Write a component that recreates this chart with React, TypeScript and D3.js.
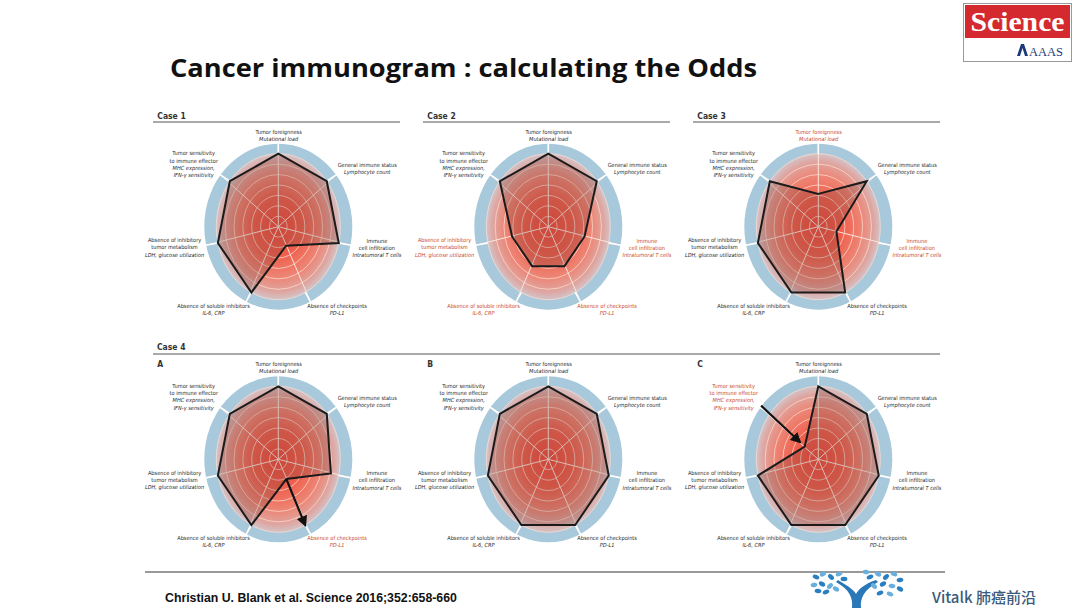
import * as d3 from 'd3';
import React, { useEffect, useRef } from 'react';

// axis texts, clockwise from the top
const axisTitles = [
  ['Tumor foreignness'],
  ['General immune status'],
  ['Immune', 'cell infiltration'],
  ['Absence of checkpoints'],
  ['Absence of soluble inhibitors'],
  ['Absence of inhibitory', 'tumor metabolism'],
  ['Tumor sensitivity', 'to immune effector'],
];
const axisNotes = [
  ['Mutational load'],
  ['Lymphocyte count'],
  ['Intratumoral T cells'],
  ['PD-L1'],
  ['IL-6, CRP'],
  ['LDH, glucose utilization'],
  ['MHC expression,', 'IFN-γ sensitivity'],
];

const panelNames = ['Case 1', 'Case 2', 'Case 3', 'A', 'B', 'C'];
const case1 = [1, 1, 1, 0.29, 1, 1, 1];
const case2 = [1, 1, 0.6, 0.6, 0.6, 0.6, 1];
const case3 = [0.45, 1, 0.3, 1, 1, 1, 1];
const case4a = [1, 1, 0.87, 0.3, 1, 1, 1];
const case4b = [1, 1, 1, 1, 1, 1, 1];
const case4c = [1, 1, 1, 1, 1, 1, 0.28];
const panelValues = [case1, case2, case3, case4a, case4b, case4c];
// axes whose label is printed in red
const panelRed = [[], [2, 3, 4, 5], [0, 2], [3], [], [6]];
// arrows: [panel, axis, from, to]
const arrows: [number, number, number, number][] = [
  [3, 3, 0.3, 1.0],
  [5, 6, 1.18, 0.38],
];

const ringSteps = [1, 2, 3, 4, 5, 6, 7];

function App() {
  const svgRef = useRef<SVGSVGElement>(null);

  useEffect(() => {
    const svg = d3.select(svgRef.current);
    svg.selectAll('*').remove();

    const W = 1080;
    const H = 608;
    svg.attr('width', W).attr('height', H).style('background', '#fff');

    const defs = svg.append('defs');
    const grad = defs
      .append('radialGradient')
      .attr('id', 'redGrad')
      .attr('cx', '50%')
      .attr('cy', '50%')
      .attr('r', '50%');
    [
      [0, '#ef4b3b'],
      [0.4, '#f0604e'],
      [0.7, '#ed8575'],
      [0.9, '#dea7a2'],
      [1, '#d3c3c8'],
    ].forEach(([o, c]) => grad.append('stop').attr('offset', o as number).attr('stop-color', c as string));

    defs
      .append('marker')
      .attr('id', 'arrowHead')
      .attr('viewBox', '0 0 10 10')
      .attr('refX', 8)
      .attr('refY', 5)
      .attr('markerWidth', 5)
      .attr('markerHeight', 5)
      .attr('orient', 'auto')
      .append('path')
      .attr('d', 'M0,0L10,5L0,10z')
      .attr('fill', '#111');

    // title
    svg
      .append('text')
      .attr('x', 170)
      .attr('y', 77)
      .attr('font-family', "'Open Sans', 'Noto Sans', sans-serif")
      .attr('font-weight', 700)
      .attr('font-size', 25.5)
      .attr('textLength', 587)
      .attr('lengthAdjust', 'spacingAndGlyphs')
      .attr('fill', '#111')
      .text('Cancer immunogram : calculating the Odds');

    // Science logo
    const logo = svg.append('g');
    logo.append('rect').attr('x', 963.5).attr('y', 3.5).attr('width', 108).attr('height', 58).attr('fill', '#fff').attr('stroke', '#999');
    logo.append('rect').attr('x', 965).attr('y', 5).attr('width', 105).attr('height', 33).attr('fill', '#d42a2f');
    logo
      .append('text')
      .attr('x', 1017.5)
      .attr('y', 31)
      .attr('text-anchor', 'middle')
      .attr('font-family', "'Liberation Serif', 'DejaVu Serif', serif")
      .attr('font-weight', 700)
      .attr('font-size', 27)
      .attr('textLength', 94)
      .attr('lengthAdjust', 'spacingAndGlyphs')
      .attr('fill', '#fff')
      .text('Science');
    logo
      .append('path')
      .attr('d', 'M1017,56L1021,44L1024,44L1028,56L1025,56L1022.5,48L1020,56Z')
      .attr('fill', '#1c3a78');
    logo
      .append('text')
      .attr('x', 1029)
      .attr('y', 56)
      .attr('font-family', "'Liberation Serif', serif")
      .attr('font-size', 12.5)
      .attr('fill', '#1c3a78')
      .text('AAAS');

    const font = "'Liberation Sans Narrow', 'Arial Narrow', 'DejaVu Sans Condensed', sans-serif";

    // section rules and headers
    const rules: [number, number, number][] = [
      [153, 400, 122],
      [423, 670, 122],
      [693, 940, 122],
      [153, 940, 354],
    ];
    rules.forEach(([x1, x2, y]) =>
      svg.append('line').attr('x1', x1).attr('x2', x2).attr('y1', y).attr('y2', y).attr('stroke', '#555').attr('stroke-width', 1)
    );
    svg
      .append('text')
      .attr('x', 157)
      .attr('y', 350)
      .attr('font-family', font)
      .attr('font-weight', 700)
      .attr('font-size', 8.5)
      .attr('fill', '#333')
      .text('Case 4');

    const colX = d3.scaleLinear().domain([0, 2]).range([278.3, 818.3]);
    const rowY = d3.scaleLinear().domain([0, 1]).range([226.7, 459.3]);
    const rx = 62;
    const ry = 73;
    const rxo = 74;
    const ryo = 83;
    const r = d3.scaleLinear().domain([0, 1]).range([0, 1]);
    const n = axisTitles.length;
    const angle = d3.scaleLinear().domain([0, n]).range([0, 2 * Math.PI]);
    const pt = (i: number, v: number, ax = rx, ay = ry): [number, number] => [
      ax * r(v) * Math.sin(angle(i)),
      -ay * r(v) * Math.cos(angle(i)),
    ];

    panelValues.forEach((values, p) => {
      const cx = colX(p % 3);
      const cy = rowY(Math.floor(p / 3));
      const g = svg.append('g').attr('transform', `translate(${cx},${cy})`);

      // panel header
      const hy = p < 3 ? 119 : 367;
      svg
        .append('text')
        .attr('x', cx - 121)
        .attr('y', hy)
        .attr('font-family', font)
        .attr('font-weight', 700)
        .attr('font-size', 8.5)
        .attr('fill', '#333')
        .text(panelNames[p]);

      // blue ring + red disk
      g.append('ellipse').attr('rx', rxo).attr('ry', ryo).attr('fill', '#a7c9db');
      g.append('ellipse').attr('rx', rx).attr('ry', ry).attr('fill', 'url(#redGrad)');

      // grid rings
      g.selectAll('.ring')
        .data(ringSteps)
        .join('ellipse')
        .attr('rx', (d) => (rx * d) / ringSteps.length)
        .attr('ry', (d) => (ry * d) / ringSteps.length)
        .attr('fill', 'none')
        .attr('stroke', '#fcdccf')
        .attr('stroke-opacity', 0.75)
        .attr('stroke-width', 1);

      // spokes
      g.selectAll('.spoke')
        .data(d3.range(n))
        .join('line')
        .attr('x1', 0)
        .attr('y1', 0)
        .attr('x2', (i) => pt(i, 1, rxo, ryo)[0])
        .attr('y2', (i) => pt(i, 1, rxo, ryo)[1])
        .attr('stroke', '#fce6dc')
        .attr('stroke-width', 1);
      g.selectAll('.sep')
        .data(d3.range(n))
        .join('line')
        .attr('x1', (i) => pt(i, 1)[0])
        .attr('y1', (i) => pt(i, 1)[1])
        .attr('x2', (i) => pt(i, 1, rxo + 0.5, ryo + 0.5)[0])
        .attr('y2', (i) => pt(i, 1, rxo + 0.5, ryo + 0.5)[1])
        .attr('stroke', '#fff')
        .attr('stroke-width', 1.6);

      // value polygon
      const line = d3
        .line<number>()
        .x((v, i) => pt(i, v)[0])
        .y((v, i) => pt(i, v)[1])
        .curve(d3.curveLinearClosed);
      g.append('path')
        .attr('d', line(values))
        .attr('fill', 'rgba(100,60,55,0.24)')
        .attr('stroke', '#1b1b1b')
        .attr('stroke-width', 2)
        .attr('stroke-linejoin', 'miter');

      // arrows
      arrows
        .filter((a) => a[0] === p)
        .forEach(([, axis, from, to]) => {
          const a = pt(axis, from);
          const b = pt(axis, to);
          g.append('line')
            .attr('x1', a[0])
            .attr('y1', a[1])
            .attr('x2', b[0])
            .attr('y2', b[1])
            .attr('stroke', '#111')
            .attr('stroke-width', 2.2)
            .attr('marker-end', 'url(#arrowHead)');
        });

      // axis labels
      d3.range(n).forEach((i) => {
        const red = panelRed[p].includes(i);
        const lg = g.append('g');
        const lines = [
          ...axisTitles[i].map((t) => ({ t, it: false })),
          ...axisNotes[i].map((t) => ({ t, it: true })),
        ];
        const lh = 7.2;
        lg.selectAll('text')
          .data(lines)
          .join('text')
          .attr('x', 0)
          .attr('y', (d, k) => k * lh)
          .attr('text-anchor', 'middle')
          .attr('font-family', font)
          .attr('font-size', 5.6)
          .attr('font-style', (d) => (d.it ? 'italic' : 'normal'))
          .attr('fill', red ? '#cc4a2a' : '#2a2a2a')
          .text((d) => d.t);
        const bb = (lg.node() as SVGGElement).getBBox();
        const s = Math.sin(angle(i));
        const c = Math.cos(angle(i));
        const [px, py] = pt(i, 1, rxo + 2, ryo + 2);
        const sx = Math.sign(s) * Math.min(1, Math.abs(s) * 2);
        const tx = px + (sx * bb.width) / 2;
        const ty = py - (c * bb.height) / 2;
        lg.attr(
          'transform',
          `translate(${tx - (bb.x + bb.width / 2)},${ty - (bb.y + bb.height / 2)})`
        );
      });
    });

    // footer
    svg.append('line').attr('x1', 145).attr('x2', 945).attr('y1', 572).attr('y2', 572).attr('stroke', '#777').attr('stroke-width', 1.5);
    svg
      .append('text')
      .attr('x', 165)
      .attr('y', 602)
      .attr('font-family', "'Liberation Sans', Arial, sans-serif")
      .attr('font-weight', 700)
      .attr('font-size', 12.3)
      .attr('fill', '#111')
      .text('Christian U. Blank et al. Science 2016;352:658-660');

    // tree logo
    const tree = svg.append('g').attr('transform', 'translate(856,608)');
    tree
      .append('path')
      .attr('d', 'M-4,0 C-3,-10 -6,-18 -20,-26 L-18,-28 C-8,-22 -2,-18 0,-14 C2,-18 8,-24 20,-28 L22,-26 C8,-18 4,-10 5,0 Z')
      .attr('fill', '#2a78b8');
    const leaves: [number, number, number, string][] = [
      [-40, -31, 20, '#2a7fc0'], [-33, -34, -30, '#6aaedc'], [-25, -31, 40, '#2a7fc0'], [-17, -34, -20, '#6aaedc'],
      [-42, -23, -10, '#6aaedc'], [-34, -24, 30, '#2a7fc0'], [-26, -22, -40, '#6aaedc'], [-38, -17, 10, '#2a7fc0'],
      [-30, -16, -20, '#2a7fc0'], [-20, -19, 30, '#6aaedc'], [-12, -29, 0, '#2a7fc0'],
      [14, -31, -20, '#2a7fc0'], [22, -34, 30, '#6aaedc'], [30, -31, -40, '#2a7fc0'], [38, -34, 20, '#6aaedc'],
      [44, -28, -10, '#2a7fc0'], [18, -22, 40, '#6aaedc'], [27, -24, -30, '#2a7fc0'], [36, -22, 10, '#6aaedc'],
      [44, -19, 30, '#2a7fc0'], [24, -15, -20, '#2a7fc0'], [34, -14, 20, '#6aaedc'], [10, -36, 10, '#6aaedc'],
    ];
    tree
      .selectAll('ellipse')
      .data(leaves)
      .join('ellipse')
      .attr('rx', 3.4)
      .attr('ry', 2.2)
      .attr('transform', (d) => `translate(${d[0]},${d[1]}) rotate(${d[2]})`)
      .attr('fill', (d) => d[3]);

    svg
      .append('text')
      .attr('x', 932)
      .attr('y', 603)
      .attr('font-family', "'Noto Sans CJK SC', 'Noto Sans', sans-serif")
      .attr('font-weight', 500)
      .attr('font-size', 15)
      .attr('fill', '#3a5b7c')
      .text('Vitalk 肺癌前沿');
  }, []);

  return (
    <div style={{ position: 'absolute', left: 0, top: 0 }}>
      <svg ref={svgRef} style={{ display: 'block' }} />
    </div>
  );
}

export default App;
